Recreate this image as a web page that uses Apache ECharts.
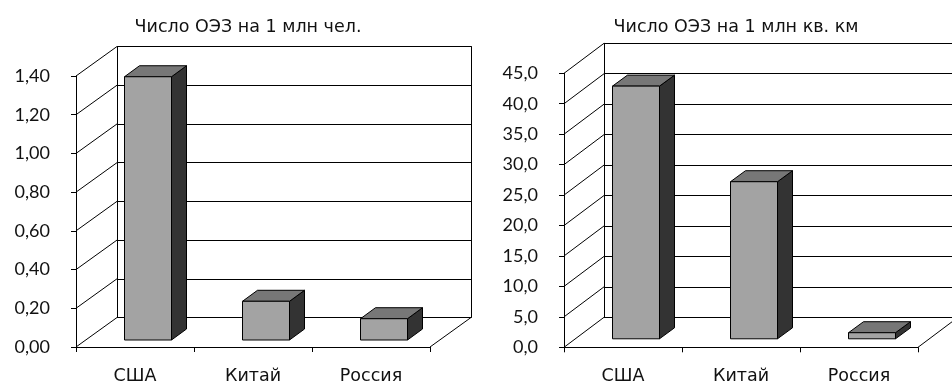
<!DOCTYPE html>
<html>
<head>
<meta charset="utf-8">
<script src="https://cdn.jsdelivr.net/npm/echarts@6/dist/echarts.min.js"></script>
<style>
  html, body { margin: 0; padding: 0; background: #fff; }
  #chart { width: 952px; height: 386px; }
</style>
</head>
<body>
<div id="chart"></div>
<script>
// Countries on the horizontal axis
const categories = ['США', 'Китай', 'Россия'];

// Left panel: number of SEZ per 1 million people
const titlePeople = 'Число ОЭЗ на 1 млн чел.';
const perMillionPeople = [1.36, 0.20, 0.11];
const peopleAxis = { min: 0, max: 1.4, interval: 0.2, digits: 2 };

// Right panel: number of SEZ per 1 million sq. km
const titleArea = 'Число ОЭЗ на 1 млн кв. км';
const perMillionSqKm = [41.5, 25.8, 1.0];
const areaAxis = { min: 0, max: 45, interval: 5, digits: 1 };

// Pseudo-3D layout of each panel: the front plane holds the axes,
// the back wall sits behind it, shifted by (dx, dy).
const panels = [
  { left: 76, top: 76, width: 354, height: 271, dx: 41, dy: -29.5, barShiftY: -7 },
  { left: 564, top: 73.3, width: 354, height: 274, dx: 40, dy: -30, barShiftY: -8.5 }
];
const BAR_WIDTH = 47;
const BAR_SHIFT_X = 13;
const BAR_DEPTH = { x: 15, y: -11 };
const FONT_NUM = 'Lato, "Open Sans", sans-serif';
const FONT_TEXT = '"DejaVu Sans", sans-serif';
const TEXT = '#111';
const LINE = '#000';

function fmt(digits) {
  return v => v.toFixed(digits).replace('.', ',');
}

const grids = [];
const xAxes = [];
const yAxes = [];
const series = [];

panels.forEach((p, i) => {
  const ax = i === 0 ? peopleAxis : areaAxis;
  const values = i === 0 ? perMillionPeople : perMillionSqKm;
  const front = i * 2, back = i * 2 + 1;

  // front plane
  grids.push({ left: p.left, top: p.top, width: p.width, height: p.height });
  // back wall
  grids.push({ left: p.left + p.dx, top: p.top + p.dy, width: p.width, height: p.height });

  xAxes.push({
    type: 'category', gridIndex: front, data: categories,
    axisLine: { lineStyle: { color: LINE, width: 1 } },
    axisTick: { show: true, length: 5, lineStyle: { color: LINE } },
    axisLabel: { color: TEXT, fontFamily: FONT_TEXT, fontSize: 17.5, margin: 20 },
    splitLine: { show: false }
  });
  xAxes.push({
    type: 'category', gridIndex: back, data: categories,
    axisLine: { show: false }, axisTick: { show: false },
    axisLabel: { show: false }, splitLine: { show: false }
  });

  yAxes.push({
    type: 'value', gridIndex: front, min: ax.min, max: ax.max, interval: ax.interval,
    axisLine: { show: true, lineStyle: { color: LINE, width: 1 } },
    axisTick: { show: true, length: 5, lineStyle: { color: LINE } },
    axisLabel: { color: TEXT, fontFamily: FONT_NUM, fontSize: 18, margin: 26, formatter: fmt(ax.digits) },
    splitLine: { show: false }
  });
  yAxes.push({
    type: 'value', gridIndex: back, min: ax.min, max: ax.max, interval: ax.interval,
    axisLine: { show: true, lineStyle: { color: LINE, width: 1 } },
    axisTick: { show: false }, axisLabel: { show: false },
    splitLine: { show: true, lineStyle: { color: LINE, width: 1 } }
  });
  // right edge of the back wall
  yAxes.push({
    type: 'value', gridIndex: back, position: 'right', min: ax.min, max: ax.max, interval: ax.interval,
    axisLine: { show: true, lineStyle: { color: LINE, width: 1 } },
    axisTick: { show: false }, axisLabel: { show: false }, splitLine: { show: false }
  });

  const ticks = [];
  for (let v = ax.min; v <= ax.max + 1e-9; v += ax.interval) ticks.push([0, +v.toFixed(4), 'side']);
  ticks.push([0, 0, 'floor']);

  // side wall gridlines and floor edge
  series.push({
    type: 'custom', xAxisIndex: front, yAxisIndex: yAxes.length - 3, clip: false, silent: true, z: 1,
    data: ticks,
    renderItem(params, api) {
      const cs = params.coordSys;
      const y = api.coord([0, api.value(1)])[1];
      const x0 = api.value(2) === 'floor' ? cs.x + cs.width : cs.x;
      return {
        type: 'line',
        shape: { x1: x0, y1: y, x2: x0 + p.dx, y2: y + p.dy },
        style: { stroke: LINE, lineWidth: 1 }
      };
    }
  });

  // 3D columns
  series.push({
    type: 'custom', xAxisIndex: front, yAxisIndex: yAxes.length - 3, clip: false, z: 3,
    data: values.map((v, k) => [k, v]),
    renderItem(params, api) {
      const base = api.coord([api.value(0), 0]);
      const top = api.coord([api.value(0), api.value(1)]);
      const cx = base[0] + BAR_SHIFT_X;
      const x0 = cx - BAR_WIDTH / 2, x1 = cx + BAR_WIDTH / 2;
      const yb = base[1] + p.barShiftY, yt = top[1] + p.barShiftY;
      const dx = BAR_DEPTH.x, dy = BAR_DEPTH.y;
      const stroke = { stroke: LINE, lineWidth: 1 };
      return {
        type: 'group',
        children: [
          { type: 'polygon', shape: { points: [[x1, yt], [x1 + dx, yt + dy], [x1 + dx, yb + dy], [x1, yb]] },
            style: Object.assign({ fill: '#333333' }, stroke) },
          { type: 'polygon', shape: { points: [[x0, yt], [x1, yt], [x1 + dx, yt + dy], [x0 + dx, yt + dy]] },
            style: Object.assign({ fill: '#777777' }, stroke) },
          { type: 'rect', shape: { x: x0, y: yt, width: BAR_WIDTH, height: yb - yt },
            style: Object.assign({ fill: '#a3a3a3' }, stroke) }
        ]
      };
    }
  });
});

const chart = echarts.init(document.getElementById('chart'), null, { renderer: 'canvas' });
chart.setOption({
  backgroundColor: '#fff',
  animation: false,
  title: [
    { text: titlePeople, left: 243, top: 13, textAlign: 'center',
      textStyle: { color: TEXT, fontFamily: FONT_TEXT, fontSize: 17.5, fontWeight: 'normal' } },
    { text: titleArea, left: 731, top: 13, textAlign: 'center',
      textStyle: { color: TEXT, fontFamily: FONT_TEXT, fontSize: 17.5, fontWeight: 'normal' } }
  ],
  grid: grids,
  xAxis: xAxes,
  yAxis: yAxes,
  series: series
});
</script>
</body>
</html>
